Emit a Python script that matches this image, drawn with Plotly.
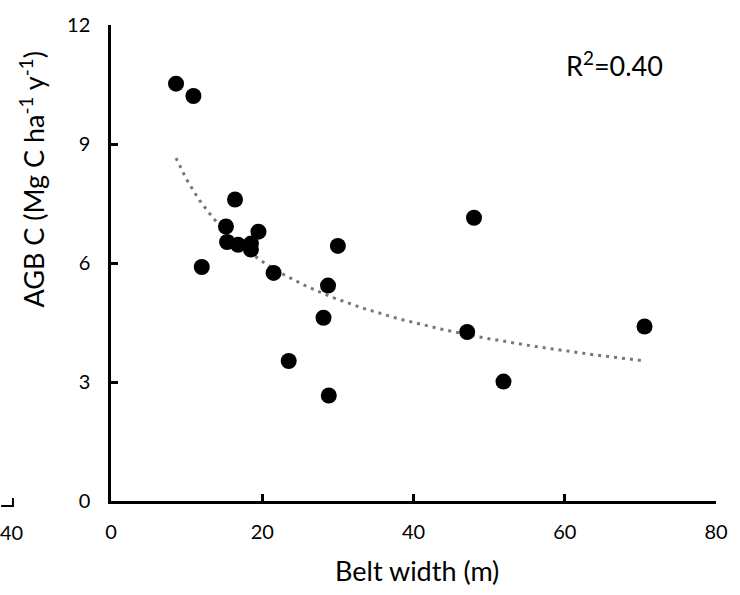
import numpy as np
import plotly.graph_objects as go

# Data
belt_width = [8.6, 10.9, 16.4, 15.2, 15.35, 16.8, 18.5, 18.5, 19.5, 12.0,
              21.5, 30.0, 28.7, 28.1, 23.5, 28.8, 48.0, 47.1, 51.9, 70.55]
agb_c = [10.52, 10.21, 7.60, 6.92, 6.53, 6.46, 6.49, 6.34, 6.79, 5.90,
         5.75, 6.43, 5.43, 4.62, 3.53, 2.66, 7.14, 4.26, 3.01, 4.40]
x_ticks = [0, 20, 40, 60, 80]
y_ticks = [0, 3, 6, 9, 12]
r2_label = "R<sup>2</sup>=0.40"

W, H = 740, 595
L, R, T, B = 111, 18, 15, 94
FONT = "Lato"

def px(xp):
    return (xp - L) / (W - L - R)

def py(yp):
    return (H - B - yp) / (H - T - B)

# Power trendline (least squares in log space, as a spreadsheet power trendline)
xa = np.array(belt_width)
ya = np.array(agb_c)
p, c = np.polyfit(np.log(xa), np.log(ya), 1)
xt = np.linspace(xa.min(), xa.max(), 200)
yt = np.exp(c) * xt ** p

fig = go.Figure()
fig.add_trace(go.Scatter(
    x=xt, y=yt, mode="lines",
    line=dict(color="#777777", width=3, dash="3px,5px"),
    hoverinfo="skip", showlegend=False,
))
fig.add_trace(go.Scatter(
    x=belt_width, y=agb_c, mode="markers",
    marker=dict(color="black", size=16, line=dict(width=0)),
    showlegend=False,
))

axis_common = dict(
    showgrid=False, zeroline=False, showline=True, linecolor="black", linewidth=2.5,
    ticks="inside", ticklen=7, tickwidth=2.5, tickcolor="black",
    tickfont=dict(family=FONT, size=20, color="black"),
)
fig.update_xaxes(range=[0, 80], tickvals=x_ticks, ticktext=[str(v) for v in x_ticks],
                 ticklabelstandoff=11, **axis_common)
fig.update_yaxes(range=[0, 12], tickvals=y_ticks, ticktext=[str(v) for v in y_ticks],
                 ticklabelstandoff=14, **axis_common)

fig.add_annotation(
    text="Belt width (m)", xref="paper", yref="paper", x=px(420), y=py(572),
    showarrow=False, xanchor="center", yanchor="middle",
    font=dict(family=FONT, size=27, color="black"),
)
fig.add_annotation(
    text="AGB C (Mg C ha<sup>-1</sup> y<sup>-1</sup>)", textangle=-90,
    xref="paper", yref="paper", x=px(31), y=py(173), showarrow=False,
    xanchor="center", yanchor="middle",
    font=dict(family=FONT, size=27, color="black"),
)
fig.add_annotation(
    text=r2_label, xref="paper", yref="paper", x=px(619), y=py(55), showarrow=False,
    xanchor="center", yanchor="middle",
    font=dict(family=FONT, size=27, color="black"),
)
# Residue of neighbouring chart at bottom-left
fig.add_annotation(
    text="40", xref="paper", yref="paper", x=px(11), y=py(533), showarrow=False,
    xanchor="center", yanchor="middle",
    font=dict(family=FONT, size=20, color="black"),
)
fig.add_shape(type="path", xref="paper", yref="paper",
              path=f"M {px(0)} {py(506)} L {px(12)} {py(506)} L {px(12)} {py(498)}",
              line=dict(color="black", width=2))

fig.update_layout(
    width=W, height=H, autosize=False,
    margin=dict(l=L, r=R, t=T, b=B),
    paper_bgcolor="white", plot_bgcolor="white",
    font=dict(family=FONT, color="black"),
)
fig.write_html("out.html")
